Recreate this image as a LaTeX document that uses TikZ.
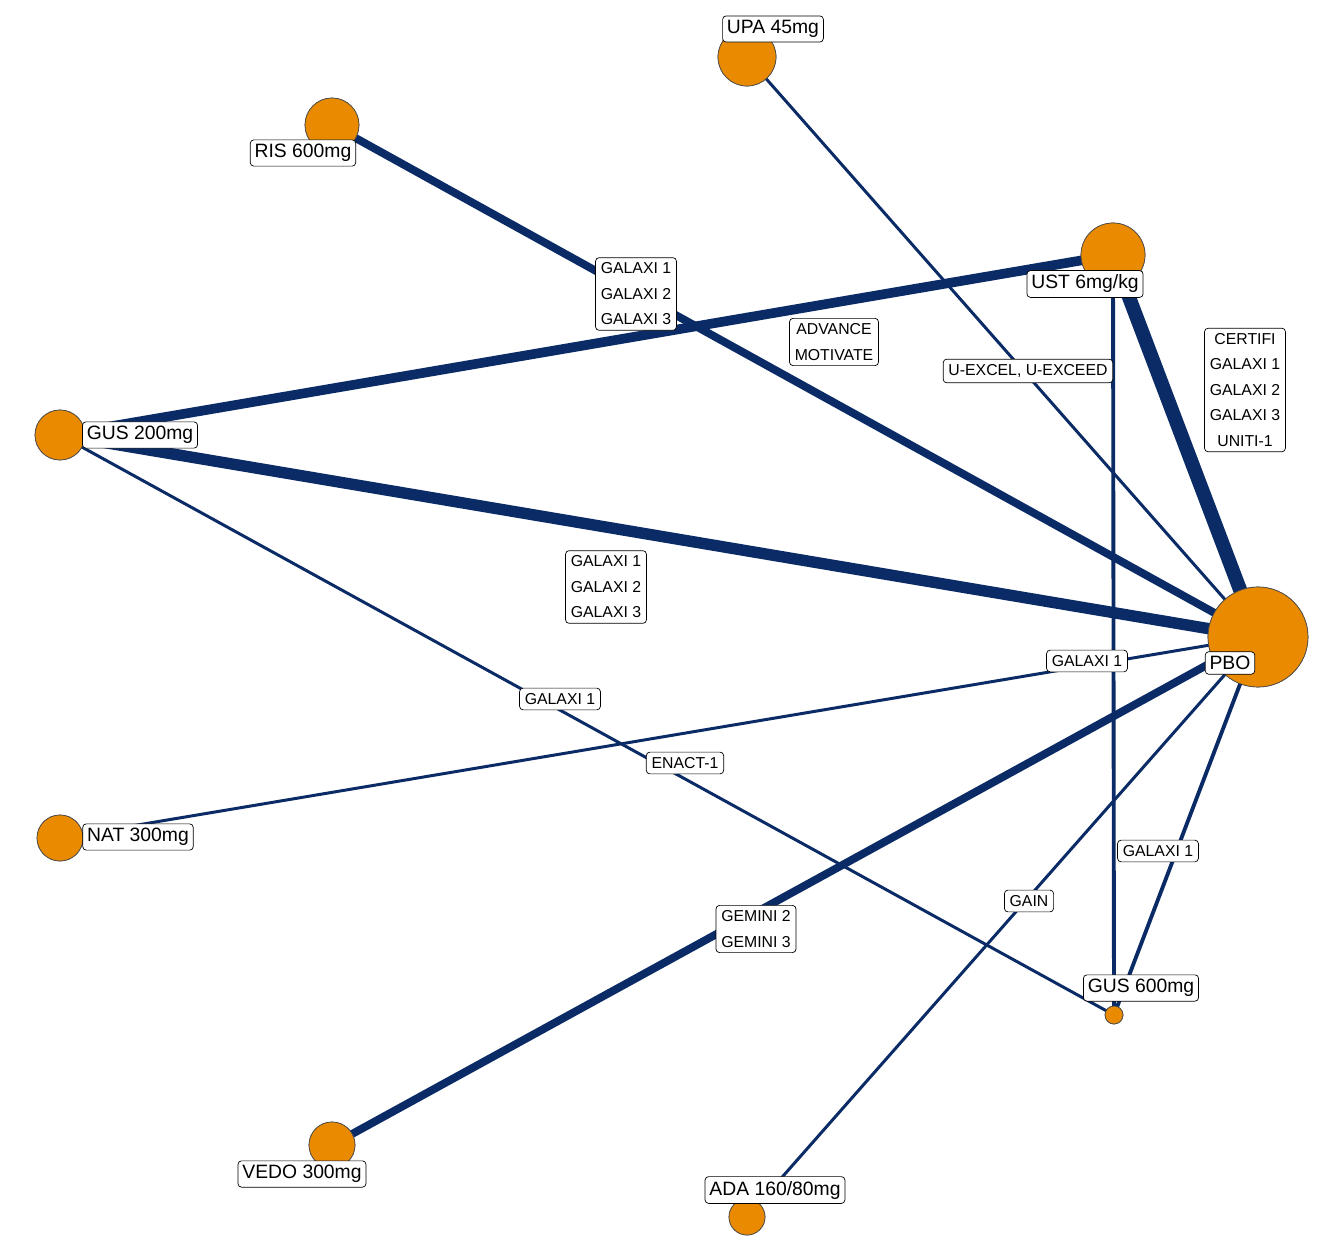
\documentclass[tikz,border=0pt]{standalone}
\usepackage{fontspec}
\setmainfont{Liberation Sans}
\definecolor{dot}{HTML}{E98A00}
\definecolor{wire}{HTML}{0B2B66}
\tikzset{
	ball/.style={circle,draw=black!70,fill=dot,inner sep=0pt,thin},
	lab/.style={rectangle,draw,rounded corners=2pt,fill=white,font=\fontsize{11}{12}\selectfont,inner sep=2.5pt},
	elab/.style={rectangle,draw,rounded corners=2pt,fill=white,font=\fontsize{9}{14.5}\selectfont,align=center,inner sep=3pt},
	wire/.style={draw=wire,line width=#1}
}
\begin{document}
\begin{tikzpicture}[x=0.02cm,y=-0.02cm]
	\useasboundingbox (0,0) rectangle (1320,1257);
	\node[ball,minimum size=58\pgflinewidth*0+1.16cm]	(UPA)	at (747,57)	{};
	\node[ball,minimum size=1.08cm]	(RIS)	at (332,125)	{};
	\node[ball,minimum size=1.28cm]	(UST)	at (1113,255)	{};
	\node[ball,minimum size=1.0cm]	(GUS2)	at (60,435)	{};
	\node[ball,minimum size=2.0cm]	(PBO)	at (1258,637)	{};
	\node[ball,minimum size=0.92cm]	(NAT)	at (60,838)	{};
	\node[ball,minimum size=0.36cm]	(GUS6)	at (1114,1015)	{};
	\node[ball,minimum size=0.92cm]	(VEDO)	at (332,1145)	{};
	\node[ball,minimum size=0.72cm]	(ADA)	at (747,1217)	{};
	\begin{scope}[on background layer/.style={}]
	\end{scope}
	\path
	(UPA.center) edge[wire=1.7pt]	(PBO.center)
	(RIS.center) edge[wire=4.5pt]	(PBO.center)
	(UST.center) edge[wire=5.5pt]	(GUS2.center)
	(UST.center) edge[wire=8pt]	(PBO.center)
	(UST.center) edge[wire=2.2pt]	(GUS6.center)
	(GUS2.center) edge[wire=6.5pt]	(PBO.center)
	(GUS2.center) edge[wire=1.7pt]	(GUS6.center)
	(NAT.center) edge[wire=1.7pt]	(PBO.center)
	(VEDO.center) edge[wire=4.5pt]	(PBO.center)
	(ADA.center) edge[wire=1.7pt]	(PBO.center)
	(GUS6.center) edge[wire=2.2pt]	(PBO.center)
	;
	% redraw balls above the lines
	\foreach \n/\p/\s in {UPA/{747,57}/1.16cm,RIS/{332,125}/1.08cm,UST/{1113,255}/1.28cm,GUS2/{60,435}/1.0cm,PBO/{1258,637}/2.0cm,NAT/{60,838}/0.92cm,GUS6/{1114,1015}/0.36cm,VEDO/{332,1145}/0.92cm,ADA/{747,1217}/0.72cm}
		\node[ball,minimum size=\s] at (\p) {};
	% edge labels
	\node[elab]	(e1)	at (636,294)	{GALAXI 1\\GALAXI 2\\GALAXI 3};
	\node[elab]	(e2)	at (834,342)	{ADVANCE\\MOTIVATE};
	\node[elab]	(e3)	at (1028,371)	{U-EXCEL, U-EXCEED};
	\node[elab]	(e4)	at (1245,390)	{CERTIFI\\GALAXI 1\\GALAXI 2\\GALAXI 3\\UNITI-1};
	\node[elab]	(e5)	at (606,587)	{GALAXI 1\\GALAXI 2\\GALAXI 3};
	\node[elab]	(e6)	at (1087,661)	{GALAXI 1};
	\node[elab]	(e7)	at (560,699)	{GALAXI 1};
	\node[elab]	(e8)	at (685,763)	{ENACT-1};
	\node[elab]	(e9)	at (1158,851)	{GALAXI 1};
	\node[elab]	(e10)	at (1029,901)	{GAIN};
	\node[elab]	(e11)	at (756,929)	{GEMINI 2\\GEMINI 3};
	% node labels
	\node[lab]	(UPAl)	at (773,29)	{UPA 45mg};
	\node[lab]	(RISl)	at (303,153)	{RIS 600mg};
	\node[lab]	(USTl)	at (1085,284)	{UST 6mg/kg};
	\node[lab]	(GUS2l)	at (140,435)	{GUS 200mg};
	\node[lab]	(PBOl)	at (1230,663)	{PBO};
	\node[lab]	(NATl)	at (138,837)	{NAT 300mg};
	\node[lab]	(GUS6l)	at (1141,988)	{GUS 600mg};
	\node[lab]	(VEDOl)	at (302,1174)	{VEDO 300mg};
	\node[lab]	(ADAl)	at (775,1190)	{ADA 160/80mg};
\end{tikzpicture}
\end{document}
